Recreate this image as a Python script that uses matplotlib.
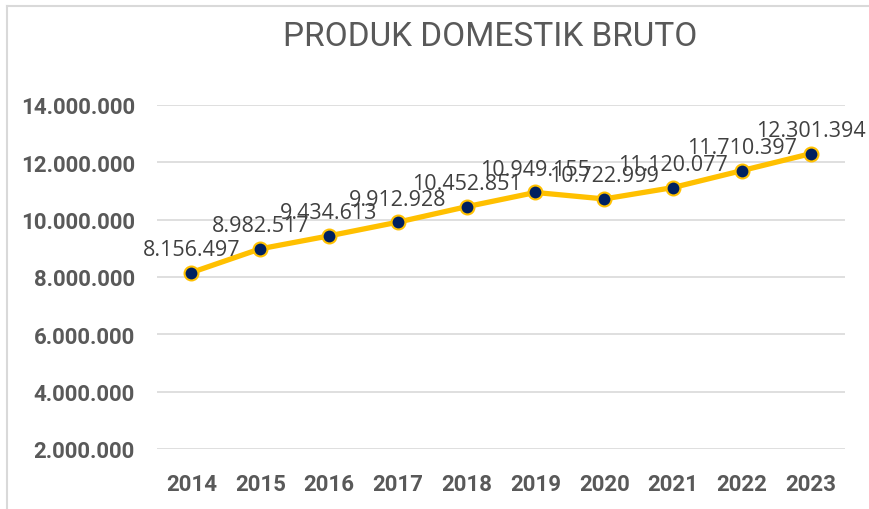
import matplotlib
matplotlib.use("Agg")
import matplotlib.pyplot as plt
from matplotlib.lines import Line2D
from matplotlib.ticker import FuncFormatter

years = ["2014", "2015", "2016", "2017", "2018", "2019", "2020", "2021", "2022", "2023"]
pdb = [8156497, 8982517, 9434613, 9912928, 10452851, 10949155, 10722999, 11120077, 11710397, 12301394]
yticks = [2000000, 4000000, 6000000, 8000000, 10000000, 12000000, 14000000]
title = "PRODUK DOMESTIK BRUTO"

narrow = "Roboto"

def fmt(v):
    return f"{int(v):,}".replace(",", ".")

fig = plt.figure(figsize=(8.7, 5.1), dpi=100)
ax = fig.add_axes([157/870, 1-450/510, (845-157)/870, (450-106)/510])

x = list(range(len(years)))
ax.plot(x, pdb, color="#FFC000", lw=3.8, marker="o", markersize=10,
        markerfacecolor="#002060", markeredgecolor="#FFC000", markeredgewidth=1.5, zorder=3,
        solid_capstyle="round")

for xi, v in zip(x, pdb):
    ax.annotate(fmt(v), (xi, v), xytext=(0, 9), textcoords="offset points",
                ha="center", va="bottom", fontsize=15.5, color="#404040",
                family=["Open Sans", "DejaVu Sans"], zorder=4)

ax.set_xlim(-0.5, len(years) - 0.5)
ax.set_ylim(2000000, 14000000)
ax.set_yticks(yticks)
ax.yaxis.set_major_formatter(FuncFormatter(lambda v, p: fmt(v)))
ax.set_xticks(x)
ax.set_xticklabels(years)
ax.grid(axis="y", color="#D9D9D9", lw=1.2)
ax.set_axisbelow(True)
for s in ax.spines.values():
    s.set_visible(False)
ax.tick_params(axis="both", length=0)
ax.tick_params(axis="y", pad=16)
ax.tick_params(axis="x", pad=17)
for lab in ax.get_yticklabels() + ax.get_xticklabels():
    lab.set_fontfamily([narrow, "DejaVu Sans"])
    lab.set_fontweight("bold")
    lab.set_fontsize(16)
    lab.set_color("#595959")

fig.text(490/870, 1-37/510, title, ha="center", va="center", fontsize=24,
         color="#595959", family=[narrow, "DejaVu Sans"])

fig.add_artist(Line2D([7/870, 1], [1-7/510, 1-7/510], color="#D9D9D9", lw=1.5, transform=fig.transFigure))
fig.add_artist(Line2D([7/870, 7/870], [0, 1-7/510], color="#D9D9D9", lw=1.5, transform=fig.transFigure))

fig.savefig("out.png", dpi=100)
